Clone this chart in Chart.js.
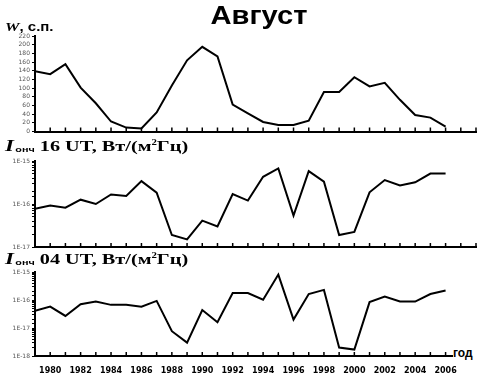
<!DOCTYPE html>
<html>
<head>
<meta charset="utf-8">
<script src="https://cdn.jsdelivr.net/npm/chart.js@4.4.1/dist/chart.umd.min.js"></script>
<style>
body { margin: 0; background: #fff; }
#wrap { position: relative; width: 479px; height: 380px; overflow: hidden; background: #fff; }
canvas { position: absolute; left: 0; top: 0; }
.lbl { position: absolute; white-space: nowrap; color: #000; transform-origin: 0 0; }
#title { left: 159px; width: 200px; top: 0px; text-align: center; font: bold 26px "Liberation Sans", Arial, sans-serif; transform-origin: 50% 0; transform: scaleX(1.12); }
#w { left: 5px; top: 19px; font: bold 12px "Liberation Sans", Arial, sans-serif; transform: scaleX(1.25); }
#w i { font-family: "Liberation Serif", serif; font-size: 13px; }
.pl { left: 5px; font: bold 15px "Liberation Serif", "Times New Roman", serif; transform: scaleX(1.35); }
.pl i { font-size: 17px; }
.pl sub { font: bold 8px "Liberation Sans", Arial, sans-serif; vertical-align: -1px; margin-left: 1px; }
.pl sup { font-size: 8px; vertical-align: 6px; }
#p2 { top: 136px; }
#p3 { top: 249px; }
#god { left: 453px; top: 346px; width: 26px; background: #fff; font: bold 12px "Liberation Sans", Arial, sans-serif; }
</style>
</head>
<body>
<div id="wrap">
  <canvas id="c1" width="479" height="380"></canvas>
  <canvas id="c2" width="479" height="380"></canvas>
  <canvas id="c3" width="479" height="380"></canvas>
  <div class="lbl" id="title">Август</div>
  <div class="lbl" id="w"><i>W</i>, с.п.</div>
  <div class="lbl pl" id="p2"><i>I</i><sub>онч</sub> 16 UT, Вт/(м<sup>2</sup>Гц)</div>
  <div class="lbl pl" id="p3"><i>I</i><sub>онч</sub> 04 UT, Вт/(м<sup>2</sup>Гц)</div>
  <div class="lbl" id="god">год</div>
</div>
<script>
const years = [1979, 1980, 1981, 1982, 1983, 1984, 1985, 1986, 1987, 1988, 1989, 1990, 1991, 1992,
               1993, 1994, 1995, 1996, 1997, 1998, 1999, 2000, 2001, 2002, 2003, 2004, 2005, 2006]
const yearLabels = [1980, 1982, 1984, 1986, 1988, 1990, 1992, 1994, 1996, 1998, 2000, 2002, 2004, 2006]

// числа Вольфа, август
const wolf = [139, 132, 155, 101, 65, 23, 9, 7, 44, 106, 164, 195, 173, 62,
              42, 22, 15, 15, 25, 91, 91, 125, 104, 112, 73, 38, 32, 11]
// интенсивность ОНЧ, 16 UT
const ionch16 = [7.7e-17, 9.2e-17, 8.2e-17, 1.26e-16, 1.0e-16, 1.67e-16, 1.53e-16, 3.4e-16, 1.84e-16, 1.9e-17,
                 1.5e-17, 4.1e-17, 3.0e-17, 1.7e-16, 1.2e-16, 4.3e-16, 6.7e-16, 5.4e-17, 5.8e-16, 3.3e-16,
                 1.9e-17, 2.25e-17, 1.87e-16, 3.6e-16, 2.7e-16, 3.2e-16, 5.1e-16, 5.1e-16]
// интенсивность ОНЧ, 04 UT
const ionch04 = [4.1e-17, 5.8e-17, 2.7e-17, 7.1e-17, 8.8e-17, 6.7e-17, 6.7e-17, 5.8e-17, 9.3e-17, 7.7e-18,
                 3.0e-18, 4.4e-17, 1.6e-17, 1.77e-16, 1.77e-16, 1.02e-16, 8.1e-16, 2.0e-17, 1.63e-16, 2.3e-16,
                 2.0e-18, 1.7e-18, 8.4e-17, 1.34e-16, 8.8e-17, 8.8e-17, 1.63e-16, 2.2e-16]

const X_MIN = 1979, X_MAX = 2008

// year tick marks pointing inside the plot
const inTicks = {
    id: 'inTicks',
    afterDraw(chart) {
        const { ctx, chartArea, scales: { x } } = chart
        ctx.save()
        ctx.strokeStyle = '#000'
        ctx.lineWidth = 1.5
        for (let yr = X_MIN + 1; yr <= X_MAX; yr++) {
            const px = x.getPixelForValue(yr)
            ctx.beginPath()
            ctx.moveTo(px, chartArea.bottom)
            ctx.lineTo(px, chartArea.bottom - 4)
            ctx.stroke()
        }
        ctx.restore()
    }
}

const expLabel = v => {
    const e = Math.log10(v)
    return Math.abs(e - Math.round(e)) < 1e-6 ? '1E' + Math.round(e) : ''
}

function panel(id, values, top, bottom, yScale, showYears) {
    return new Chart(document.getElementById(id), {
        type: 'line',
        data: {
            datasets: [{
                data: years.map((yr, i) => ({ x: yr, y: values[i] })),
                borderColor: '#000',
                borderWidth: 2,
                pointRadius: 0,
                tension: 0,
                fill: false
            }]
        },
        options: {
            responsive: false,
            animation: false,
            layout: { padding: { top: top, bottom: 380 - bottom - (showYears ? 20 : 0), left: 0, right: 3 } },
            plugins: { legend: { display: false }, tooltip: { enabled: false } },
            scales: {
                x: {
                    type: 'linear',
                    min: X_MIN,
                    max: X_MAX,
                    afterFit: s => { s.height = showYears ? 20 : 0 },
                    afterBuildTicks: s => { s.ticks = yearLabels.map(v => ({ value: v })) },
                    grid: { display: true, drawOnChartArea: false, drawTicks: false },
                    border: { color: '#000', width: 2 },
                    ticks: {
                        display: showYears,
                        autoSkip: false,
                        maxRotation: 0,
                        padding: 10,
                        color: '#000',
                        font: { family: 'DejaVu Sans', size: 8, weight: 'bold' },
                        callback: v => String(v)
                    }
                },
                y: Object.assign({
                    afterFit: s => { s.width = 35 },
                    grid: { drawOnChartArea: false, drawTicks: true, tickLength: 3, color: '#000', lineWidth: 1 },
                    border: { color: '#000', width: 2 }
                }, yScale)
            }
        },
        plugins: [inTicks]
    })
}

panel('c1', wolf, 36, 131.5, {
    type: 'linear', min: 0, max: 220,
    ticks: { stepSize: 20, autoSkip: false, padding: 2, color: '#555', font: { family: 'DejaVu Sans', size: 6 } }
}, false)

panel('c2', ionch16, 161, 247, {
    type: 'logarithmic', min: 1e-17, max: 1e-15,
    ticks: { padding: 2, color: '#555', autoSkip: false, font: { family: 'DejaVu Sans', size: 6 }, callback: expLabel }
}, false)

panel('c3', ionch04, 272, 356, {
    type: 'logarithmic', min: 1e-18, max: 1e-15,
    ticks: { padding: 2, color: '#555', autoSkip: false, font: { family: 'DejaVu Sans', size: 6 }, callback: expLabel }
}, true)
</script>
</body>
</html>
